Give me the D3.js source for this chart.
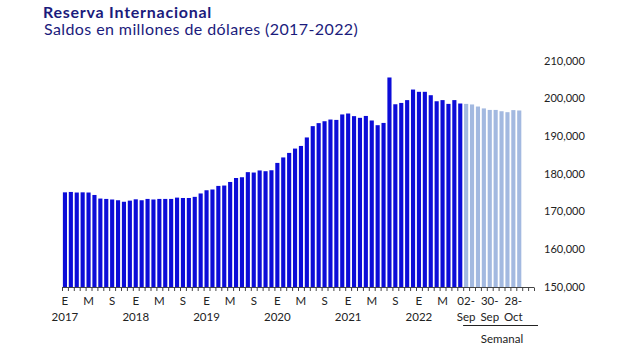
<!DOCTYPE html>
<html>
<head>
<meta charset="utf-8">
<script src="https://cdn.jsdelivr.net/npm/d3@7"></script>
<style>
  body { margin: 0; background: #fff; }
  svg { font-family: Lato, "Open Sans", sans-serif; }
</style>
</head>
<body>
<div id="chart"></div>
<script>
// monthly balances, Jan 2017 - Aug 2022 (millions of dollars)
var monthly = [
    175100, 175200, 175050, 175100, 175050, 174400, 173450, 173350, 173200, 173000, 172600, 172900,
    173250, 173000, 173350, 173200, 173350, 173350, 173350, 173700, 173600, 173600, 173900, 174800,
    175650, 175850, 176800, 176900, 177850, 178900, 179100, 180450, 180350, 180900, 180700, 180950,
    182900, 184350, 185550, 186700, 187400, 189650, 192650, 193450, 193950, 194400, 194300, 195750,
    196000, 195300, 194850, 195350, 194150, 192900, 193500, 205550, 198450, 198800, 199550, 202350,
    201750, 201750, 200850, 199250, 199550, 198550, 199550, 198650
];
var years = ["2017", "2018", "2019", "2020", "2021", "2022"];
var monthLetters = {0: "E", 4: "M", 8: "S"};

// weekly balances from September 2022
var weeks = ["02-Sep", "09-Sep", "16-Sep", "23-Sep", "30-Sep", "07-Oct", "14-Oct", "21-Oct", "28-Oct", "04-Nov"];
var weekly = [198550, 198400, 197850, 197350, 196950, 196950, 196600, 196350, 196900, 196800];
var weekTicks = ["02-Sep", "30-Sep", "28-Oct"];

var yTicks = [150000, 160000, 170000, 180000, 190000, 200000, 210000];

var data = [];
monthly.forEach((v, i) => {
    data.push({key: "m" + i, value: v, weekly: false, month: i % 12, year: years[Math.floor(i / 12)]});
});
weekly.forEach((v, i) => {
    data.push({key: weeks[i], value: v, weekly: true});
});

var width = 635, height = 361;
var svg = d3.select("#chart").append("svg")
    .attr("width", width)
    .attr("height", height);

var titleColor = "#1b1b7c";
svg.append("text")
    .attr("x", 43).attr("y", 17.5)
    .attr("fill", titleColor)
    .style("font-weight", "bold")
    .style("font-size", "16px")
    .style("letter-spacing", "0.75px")
    .text("Reserva Internacional");
svg.append("text")
    .attr("x", 44).attr("y", 35)
    .attr("fill", titleColor)
    .style("font-size", "16px")
    .style("letter-spacing", "0.4px")
    .text("Saldos en millones de dólares (2017-2022)");

var step = 5.9;
var x0 = 62;
var x = d3.scaleBand()
    .domain(data.map(d => d.key))
    .range([x0, x0 + data.length * step])
    .paddingInner(0.3)
    .paddingOuter(0.15);

var y = d3.scaleLinear()
    .domain([150000, 210000])
    .range([287, 60.7]);

// bars
svg.append("g")
    .selectAll("rect")
    .data(data)
    .join("rect")
    .attr("x", d => x(d.key))
    .attr("width", x.bandwidth())
    .attr("y", d => y(d.value))
    .attr("height", d => y(150000) - y(d.value))
    .attr("fill", d => d.weekly ? "#a3b9e0" : "#0c0cd8");

// category axis: line plus a tick at every slot boundary (two empty slots at the end)
var slots = data.length + 2;
var axisY = y(150000) + 0.5;
var axis = svg.append("g").attr("stroke", "#444").attr("stroke-width", 1);
axis.append("line")
    .attr("x1", x0).attr("x2", x0 + slots * x.step())
    .attr("y1", axisY).attr("y2", axisY);
axis.selectAll(".tk")
    .data(d3.range(slots + 1))
    .join("line")
    .attr("class", "tk")
    .attr("x1", i => x0 + i * x.step() + 0.5)
    .attr("x2", i => x0 + i * x.step() + 0.5)
    .attr("y1", axisY).attr("y2", axisY + 3.5);

var lbl = svg.append("g")
    .attr("text-anchor", "middle")
    .attr("fill", "#222")
    .style("font-size", "11.5px");
var center = k => x(k) + x.bandwidth() / 2;

lbl.selectAll(".mon")
    .data(data.filter(d => !d.weekly && monthLetters[d.month] !== undefined))
    .join("text")
    .attr("class", "mon")
    .attr("x", d => center(d.key))
    .attr("y", 305)
    .text(d => monthLetters[d.month]);

lbl.selectAll(".yr")
    .data(data.filter(d => !d.weekly && d.month === 0))
    .join("text")
    .attr("class", "yr")
    .attr("x", d => center(d.key))
    .attr("y", 320.5)
    .text(d => d.year);

weekTicks.forEach(w => {
    var parts = w.split("-");
    lbl.append("text").attr("x", center(w)).attr("y", 305).text(parts[0] + "-");
    lbl.append("text").attr("x", center(w)).attr("y", 320.5).text(parts[1]);
});

svg.append("line")
    .attr("x1", x(weeks[0]) - 1).attr("x2", 538)
    .attr("y1", 325.5).attr("y2", 325.5)
    .attr("stroke", "#222").attr("stroke-width", 1.2);
lbl.append("text")
    .attr("x", 502).attr("y", 343)
    .text("Semanal");

// value axis on the right, labels only
svg.append("g")
    .attr("fill", "#222")
    .style("font-size", "11px")
    .selectAll("text")
    .data(yTicks)
    .join("text")
    .attr("x", 544)
    .attr("y", d => y(d))
    .attr("dy", "0.35em")
    .text(d => d3.format(",")(d));
</script>
</body>
</html>
